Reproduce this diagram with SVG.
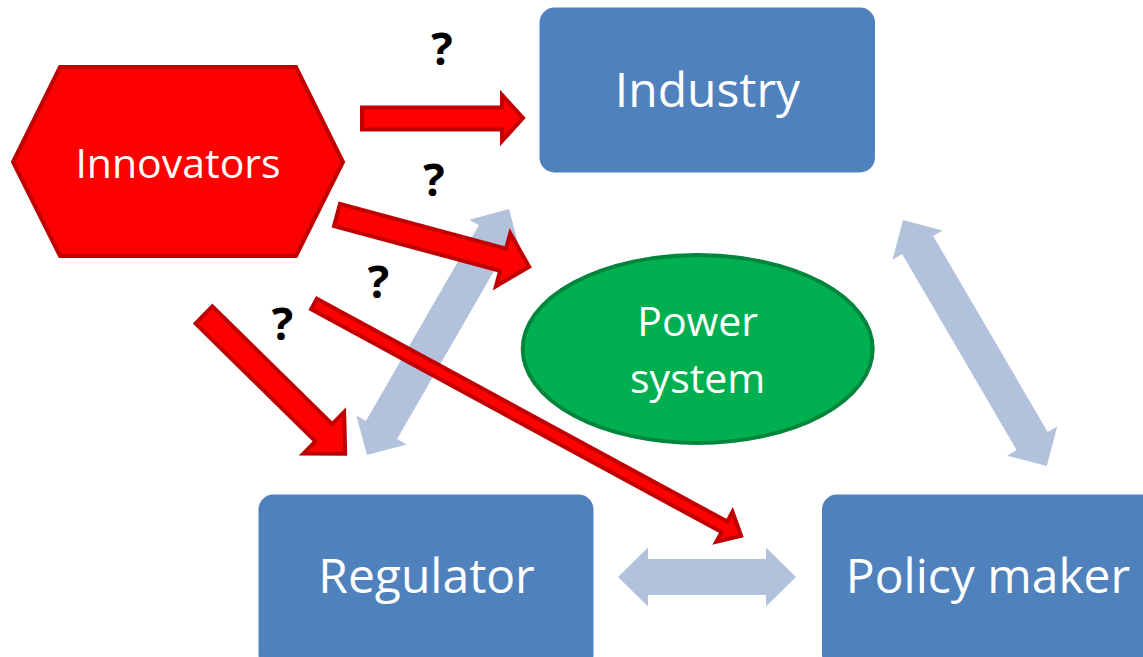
<svg xmlns="http://www.w3.org/2000/svg" width="1143" height="657" viewBox="0 0 1143 657">
  <style>
    .box { fill: #4F81BD; }
    .lbl { font-family: "Open Sans", "Noto Sans", sans-serif; fill: #FFFFFF; text-anchor: middle; }
    .big { font-size: 48px; }
    .mid { font-size: 41px; }
    .red { fill: #FF0000; stroke: #C00000; stroke-width: 4; stroke-linejoin: miter; }
    .blue { fill: #B3C2DC; }
    .q { font-family: "Open Sans", "Liberation Sans", sans-serif; font-weight: bold; font-size: 45px; fill: #000000; text-anchor: middle; }
  </style>
  <rect width="1143" height="657" fill="#FFFFFF"/>

  <g id="innovators">
    <polygon points="13,162 60,67 296,67 343,162 296,256 60,256" fill="#FF0000" stroke="#C00000" stroke-width="4"/>
    <text class="lbl mid" x="178" y="178">Innovators</text>
  </g>
  <g id="industry">
    <rect class="box" x="539.5" y="7.5" width="335.5" height="165" rx="15"/>
    <text class="lbl big" x="707.5" y="107">Industry</text>
  </g>
  <g id="power-system">
    <ellipse cx="697.7" cy="349" rx="175" ry="94" fill="#00B050" stroke="#00853C" stroke-width="4"/>
    <text class="lbl mid" x="697.7" y="336">Power</text>
    <text class="lbl mid" x="697.7" y="393">system</text>
  </g>
  <g id="regulator">
    <rect class="box" x="258.5" y="494.5" width="335" height="175" rx="15"/>
    <text class="lbl big" x="426.5" y="593">Regulator</text>
  </g>
  <g id="policy-maker">
    <rect class="box" x="822" y="494.5" width="340" height="175" rx="15"/>
    <text class="lbl big" x="988" y="593">Policy maker</text>
  </g>

  <g id="connectors">
    <path class="blue" transform="translate(367,455) rotate(-60)" d="M0,0 L29,-29 L29,-18 L255,-18 L255,-29 L284,0 L255,29 L255,18 L29,18 L29,29 Z"/>
    <path class="blue" transform="translate(903,220) rotate(59.7)" d="M0,0 L29,-29 L29,-18 L256,-18 L256,-29 L285,0 L256,29 L256,18 L29,18 L29,29 Z"/>
    <path class="blue" transform="translate(618,577)" d="M0,0 L30,-29.5 L30,-18 L148,-18 L148,-29.5 L178,0 L148,29.5 L148,18 L30,18 L30,29.5 Z"/>

    <path class="red" d="M362,107.5 L502,107.5 L502,95 L523,118 L502,141 L502,129.5 L362,129.5 Z"/>
    <path class="red" transform="translate(337,215) rotate(15.06)" d="M0,-11.5 L172,-11.5 L172,-27.5 L199,0 L172,27.5 L172,11.5 L0,11.5 Z"/>
    <path class="red" transform="translate(204,315) rotate(44.5)" d="M0,-12 L168,-12 L168,-29 L198,0 L168,29 L168,12 L0,12 Z"/>
    <path class="red" transform="translate(314,304) rotate(28.5)" d="M0,-6 L467,-6 L467,-17 L486,0 L467,17 L467,6 L0,6 Z"/>

    <text class="q" x="442" y="65">?</text>
    <text class="q" x="434" y="196">?</text>
    <text class="q" x="378.5" y="298">?</text>
    <text class="q" x="282.5" y="340">?</text>
  </g>
</svg>
